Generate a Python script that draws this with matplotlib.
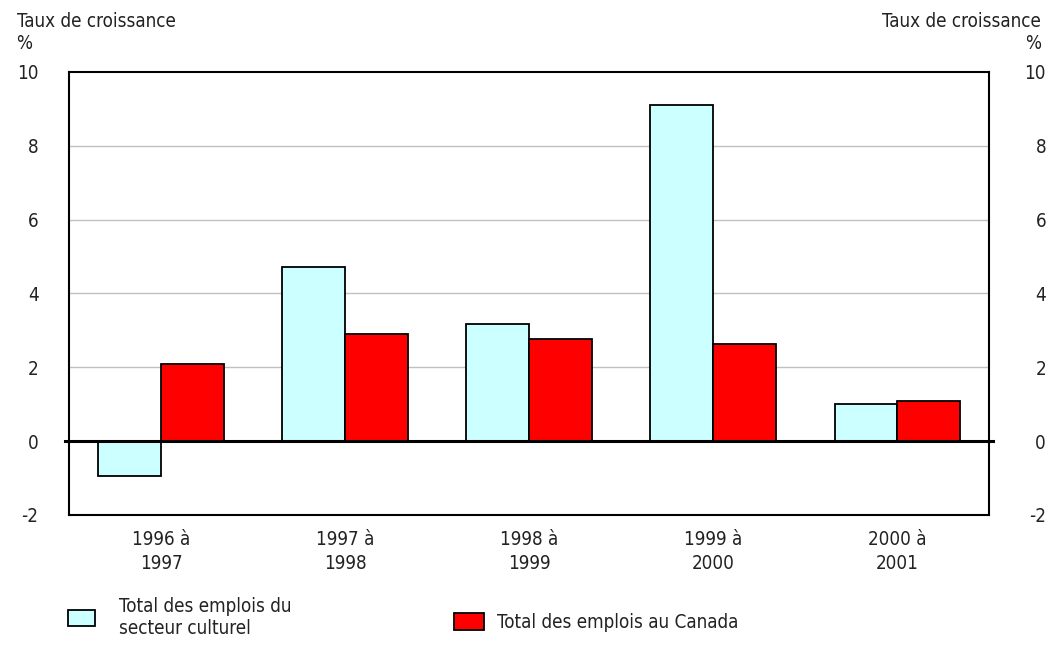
import numpy as np
import matplotlib
matplotlib.use("Agg")
import matplotlib.pyplot as plt
from matplotlib.patches import Patch

plt.rcParams['font.family'] = ['DejaVu Sans']
plt.rcParams['font.stretch'] = 'condensed'

# data
periods = ["1996 à\n1997", "1997 à\n1998", "1998 à\n1999", "1999 à\n2000", "2000 à\n2001"]
culture = [-0.95, 4.73, 3.16, 9.1, 1.0]
canada = [2.08, 2.89, 2.78, 2.62, 1.1]
yticks = [-2, 0, 2, 4, 6, 8, 10]
label_culture = "Total des emplois du\nsecteur culturel"
label_canada = "Total des emplois au Canada"

c_culture = "#ccffff"
c_canada = "#ff0000"
txt = "#222222"
fs = 13.5

fig = plt.figure(figsize=(10.6, 6.45), dpi=100)
ax = fig.add_axes([0.0651, 0.2016, 0.868, 0.6868])

x = np.arange(len(periods))
w = 0.34
ax.bar(x - w/2, culture, w, color=c_culture, edgecolor="black", linewidth=1.3, zorder=3)
ax.bar(x + w/2, canada, w, color=c_canada, edgecolor="black", linewidth=1.3, zorder=3)

ax.set_xlim(-0.5, len(periods) - 0.5)
ax.set_ylim(-2, 10)
ax.set_yticks(yticks)
ax.set_yticklabels([str(v) for v in yticks])
ax.set_xticks(x)
ax.set_xticklabels(periods, linespacing=1.3)
for v in yticks[2:-1]:
    ax.axhline(v, color="#c0c0c0", linewidth=1, zorder=1)
ax.axhline(0, xmin=-0.004, xmax=1.004, color="black", linewidth=2.2, zorder=4, clip_on=False)

for s in ax.spines.values():
    s.set_linewidth(1.5)
ax.tick_params(axis="x", length=0, pad=11, labelsize=fs, labelcolor=txt)
ax.tick_params(axis="y", length=0, pad=22, labelsize=fs, labelcolor=txt)

ax2 = ax.twinx()
ax2.set_ylim(ax.get_ylim())
ax2.set_yticks(yticks)
ax2.set_yticklabels([str(v) for v in yticks])
ax2.tick_params(axis="y", length=0, pad=41, labelsize=fs, labelcolor=txt)
for t in ax2.get_yticklabels():
    t.set_horizontalalignment("right")
for s in ax2.spines.values():
    s.set_visible(False)

fig.text(0.016, 0.967, "Taux de croissance", fontsize=fs, color=txt, va="center")
fig.text(0.015, 0.933, "%", fontsize=fs, color=txt, va="center")
fig.text(0.982, 0.967, "Taux de croissance", fontsize=fs, color=txt, va="center", ha="right")
fig.text(0.982, 0.933, "%", fontsize=fs, color=txt, va="center", ha="right")

fig.legend(handles=[Patch(facecolor=c_culture, edgecolor="black", linewidth=1.3)],
           labels=[label_culture], loc="center left", bbox_to_anchor=(0.048, 0.043),
           frameon=False, fontsize=fs, handlelength=1.45, handleheight=0.95,
           handletextpad=1.3, labelcolor=txt)
fig.legend(handles=[Patch(facecolor=c_canada, edgecolor="black", linewidth=1.3)],
           labels=[label_canada], loc="center left", bbox_to_anchor=(0.412, 0.035),
           frameon=False, fontsize=fs, handlelength=1.6, handleheight=0.95,
           handletextpad=0.7, labelcolor=txt)

fig.savefig("out.png", dpi=100)
